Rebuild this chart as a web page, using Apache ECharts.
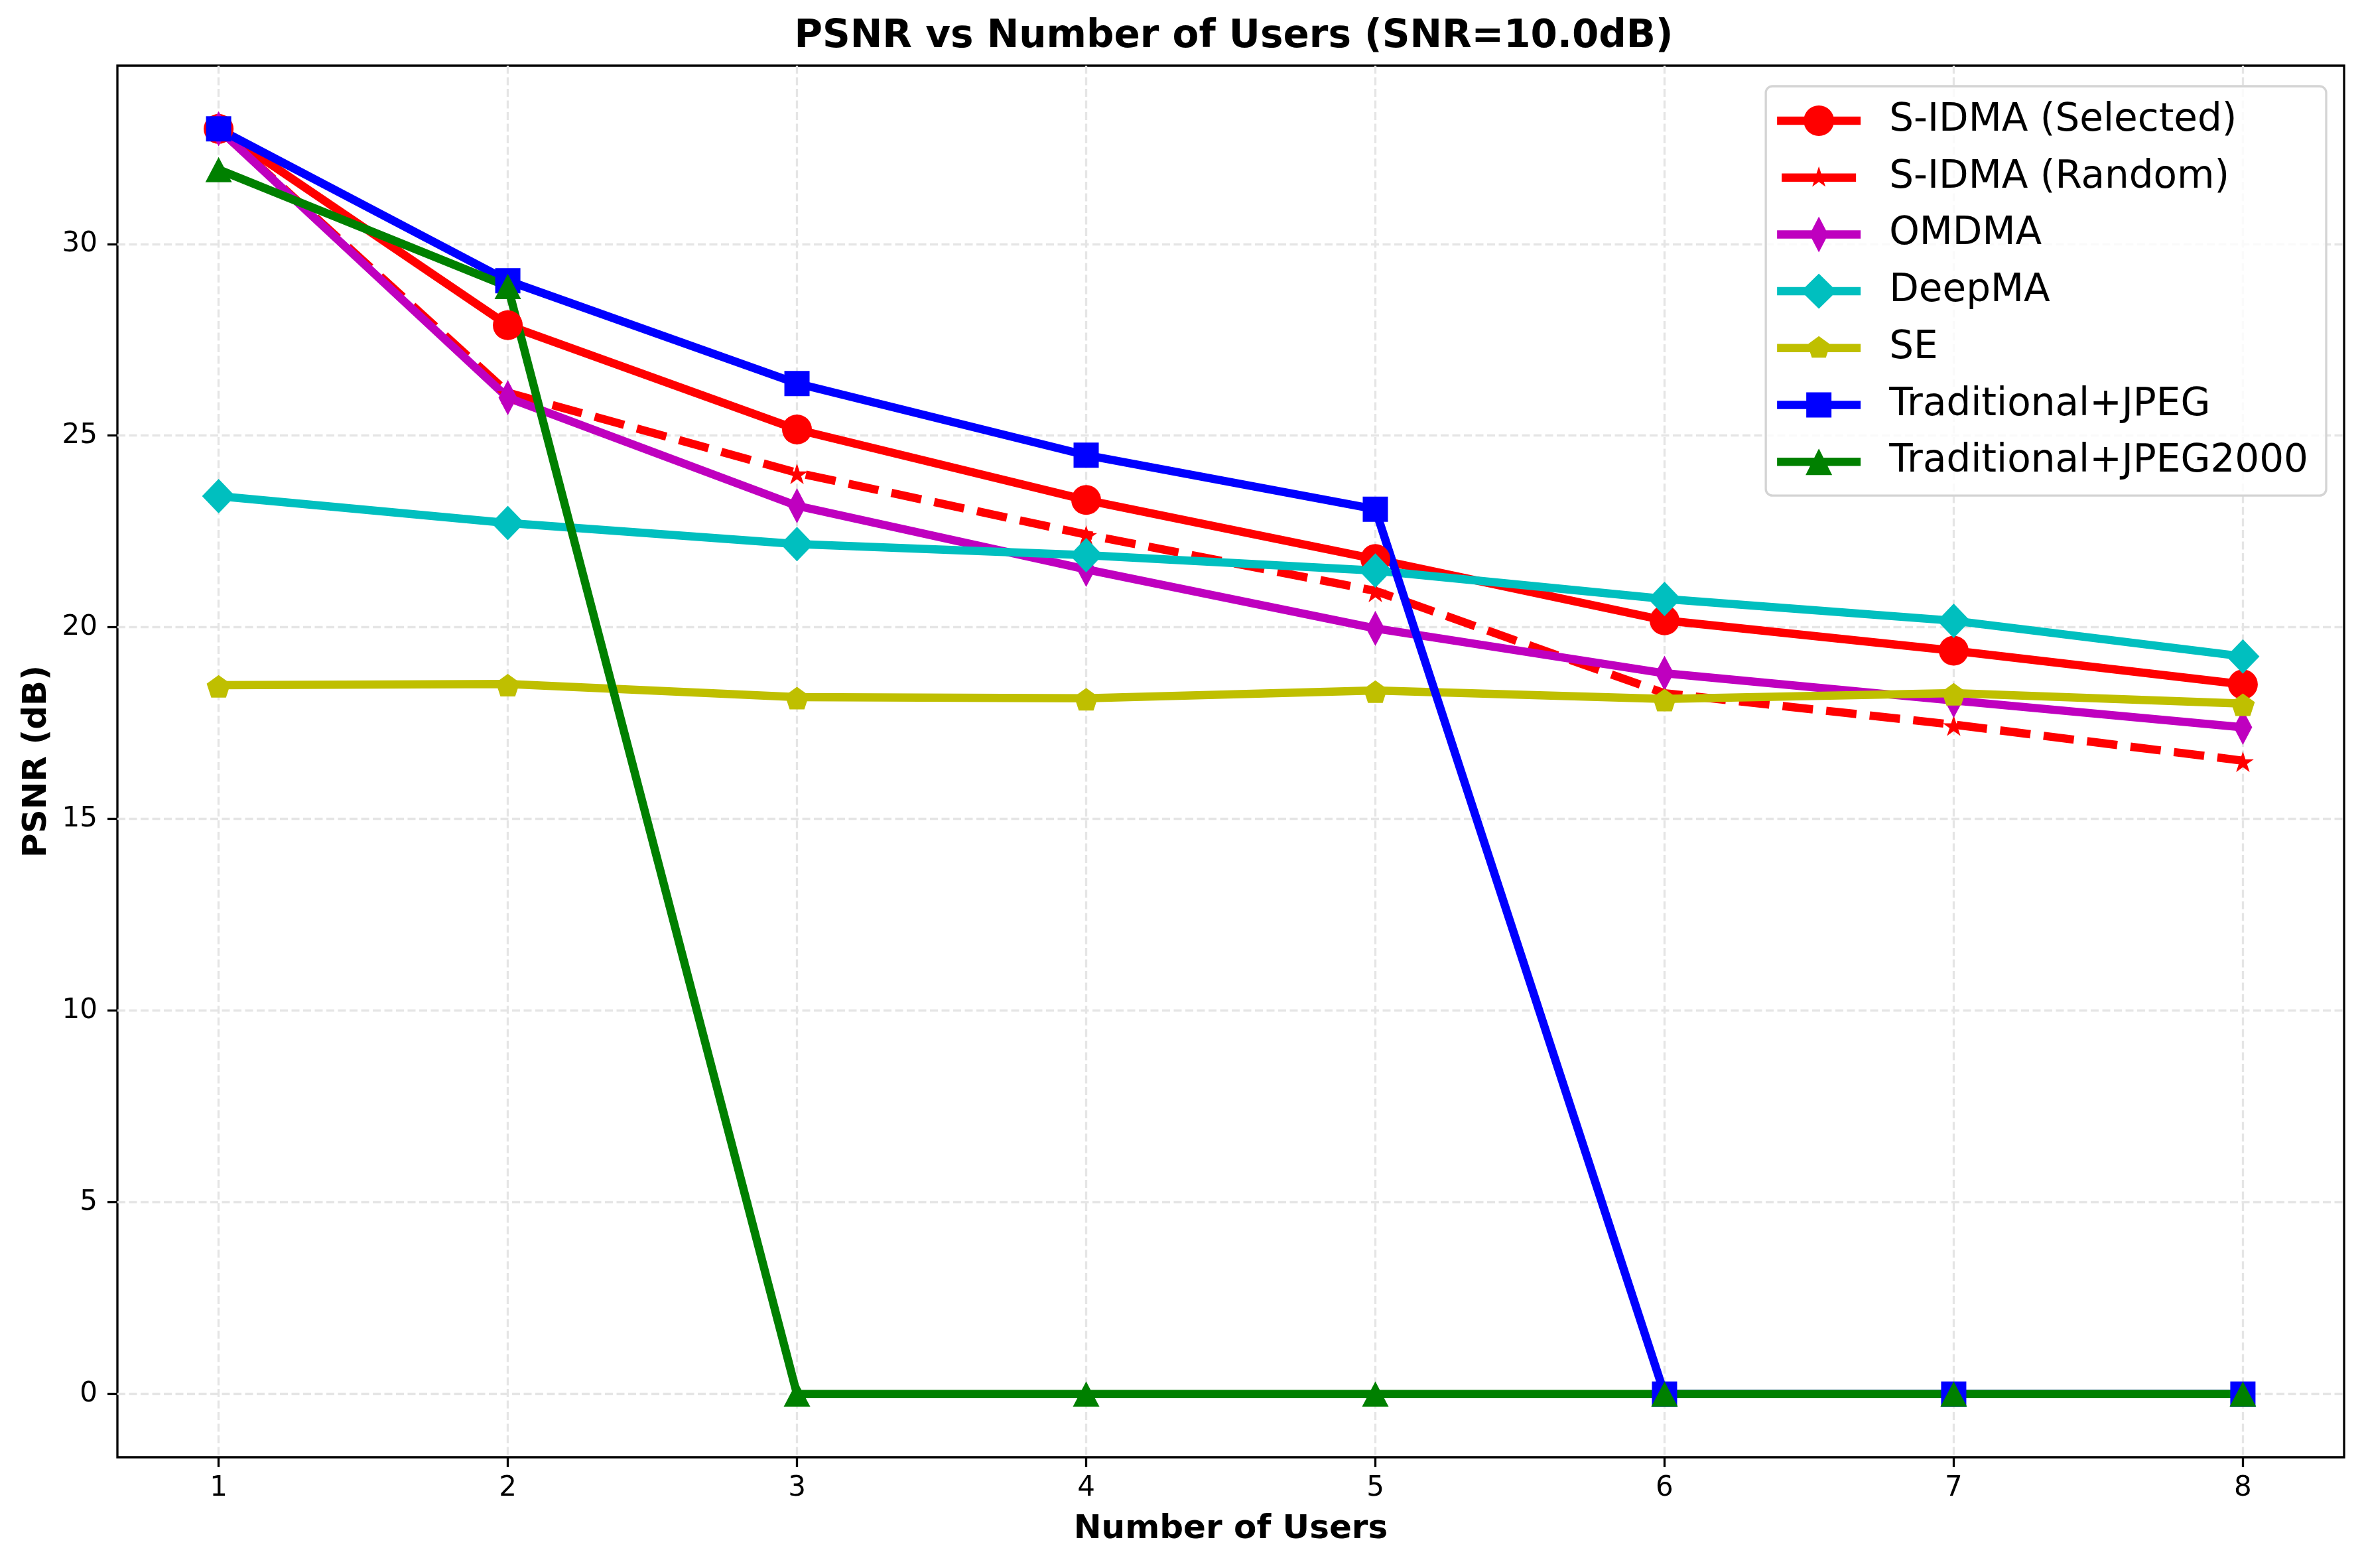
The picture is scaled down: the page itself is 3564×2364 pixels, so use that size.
<!DOCTYPE html>
<html>
<head>
<meta charset="utf-8">
<script src="https://cdn.jsdelivr.net/npm/echarts@6/dist/echarts.min.js"></script>
<style>
html,body{margin:0;padding:0;background:#fff;}
#chart{width:3564px;height:2364px;}
</style>
</head>
<body>
<div id="chart"></div>
<script>
const users = [1, 2, 3, 4, 5, 6, 7, 8];
const xTicks = [1, 2, 3, 4, 5, 6, 7, 8];
const yTicks = [0, 5, 10, 15, 20, 25, 30];
const seriesNames = ['S-IDMA (Selected)', 'S-IDMA (Random)', 'OMDMA', 'DeepMA', 'SE', 'Traditional+JPEG', 'Traditional+JPEG2000'];
const sidmaSelected = [33.0, 27.88, 25.16, 23.32, 21.78, 20.18, 19.39, 18.51];
const sidmaRandom = [33.0, 26.12, 24.03, 22.42, 20.95, 18.28, 17.46, 16.52];
const omdma = [33.0, 25.99, 23.17, 21.51, 19.97, 18.80, 18.09, 17.39];
const deepma = [23.42, 22.72, 22.17, 21.88, 21.48, 20.74, 20.17, 19.24];
const se = [18.49, 18.52, 18.18, 18.15, 18.35, 18.13, 18.28, 18.01];
const tradJpeg = [33.0, 29.04, 26.36, 24.49, 23.08, 0, 0, 0];
const tradJpeg2000 = [31.94, 28.89, 0, 0, 0, 0, 0, 0];

const STAR = 'path://M0,-100 L22.45,-30.9 L95.1,-30.9 L36.33,11.8 L58.78,80.9 L0,38.2 L-58.78,80.9 L-36.33,11.8 L-95.1,-30.9 L-22.45,-30.9 Z';
const PENT = 'path://M0,-100 L95.1,-30.9 L58.78,80.9 L-58.78,80.9 L-95.1,-30.9 Z';

const FONT = 'DejaVu Sans';
const LW = 12.5;

// ---- legend icons: handle line + marker in one path (box 126 x 56) ----
const IW = 126, IH = 56, CX = 63, CY = 28, HT = 6.25;
function f(n) { return n.toFixed(2); }
function poly(pts) { return 'M' + pts.map(p => f(p[0]) + ',' + f(p[1])).join(' L') + ' Z '; }
function anchors() { return 'M0,0 L0.01,0 L0.01,0.01 Z M' + IW + ',' + IH + ' L' + (IW - 0.01) + ',' + IH + ' L' + (IW - 0.01) + ',' + (IH - 0.01) + ' Z '; }
function bar(x0, x1) { return poly([[x0, CY - HT], [x1, CY - HT], [x1, CY + HT], [x0, CY + HT]]); }
function starPts(R) {
  const pts = [];
  for (let k = 0; k < 10; k++) {
    const a = (-90 + k * 36) * Math.PI / 180;
    const r = k % 2 === 0 ? R : R * 0.381966;
    pts.push([CX + r * Math.cos(a), CY + r * Math.sin(a)]);
  }
  return pts;
}
function pentPts(R) {
  const pts = [];
  for (let k = 0; k < 5; k++) {
    const a = (-90 + k * 72) * Math.PI / 180;
    pts.push([CX + R * Math.cos(a), CY + R * Math.sin(a)]);
  }
  return pts;
}
function circ(r) {
  return 'M' + f(CX - r) + ',' + CY + ' A' + r + ',' + r + ' 0 1,1 ' + f(CX + r) + ',' + CY + ' A' + r + ',' + r + ' 0 1,1 ' + f(CX - r) + ',' + CY + ' Z ';
}
function diam(w, h) { return poly([[CX, CY - h / 2], [CX + w / 2, CY], [CX, CY + h / 2], [CX - w / 2, CY]]); }
function sq(s) { return poly([[CX - s / 2, CY - s / 2], [CX + s / 2, CY - s / 2], [CX + s / 2, CY + s / 2], [CX - s / 2, CY + s / 2]]); }
function tri(w, h) { return poly([[CX, CY - h / 2], [CX + w / 2, CY + h / 2], [CX - w / 2, CY + h / 2]]); }

const legendIcons = [
  'path://' + anchors() + bar(0, IW) + circ(23),
  'path://' + anchors() + bar(7, IW - 7) + poly(starPts(17)),
  'path://' + anchors() + bar(0, IW) + diam(28, 54),
  'path://' + anchors() + bar(0, IW) + diam(54, 53),
  'path://' + anchors() + bar(0, IW) + poly(pentPts(18)),
  'path://' + anchors() + bar(0, IW) + sq(38),
  'path://' + anchors() + bar(0, IW) + tri(40, 40)
];

function mk(name, vals, color, symbol, size, dashed, offset) {
  return {
    name: name,
    type: 'line',
    data: users.map((u, i) => [u, vals[i]]),
    symbol: symbol,
    symbolSize: size,
    symbolOffset: offset || [0, 0],
    showSymbol: true,
    showAllSymbol: true,
    smooth: false,
    itemStyle: { color: color, borderWidth: 0 },
    lineStyle: { color: color, width: LW, type: dashed ? [46, 20] : 'solid', cap: 'butt', join: 'miter' },
    emphasis: { disabled: true },
    animation: false
  };
}

const chart = echarts.init(document.getElementById('chart'), null, { renderer: 'canvas' });
const gridLine = { show: true, lineStyle: { color: '#e5e5e5', width: 3.3, type: [12, 5.5] } };
chart.setOption({
  backgroundColor: '#ffffff',
  animation: false,
  title: {
    text: 'PSNR vs Number of Users (SNR=10.0dB)',
    left: 1855,
    top: 22,
    textAlign: 'center',
    textStyle: { fontFamily: FONT, fontWeight: 'bold', fontSize: 58, color: '#000' }
  },
  grid: {
    left: 177, right: 30, top: 99, bottom: 167,
    show: true, borderColor: '#000', borderWidth: 3.3, backgroundColor: 'transparent',
    containLabel: false
  },
  legend: {
    show: true,
    data: seriesNames.map((n, i) => ({ name: n, icon: legendIcons[i] })),
    orient: 'vertical',
    right: 57,
    top: 130,
    padding: [23, 27, 22, 17],
    itemWidth: IW,
    itemHeight: IH,
    itemGap: 27.7,
    symbolKeepAspect: true,
    itemStyle: { borderWidth: 0 },
    backgroundColor: 'rgba(255,255,255,0.8)',
    borderColor: '#d4d4d4',
    borderWidth: 3.3,
    borderRadius: 10,
    textStyle: { fontFamily: FONT, fontSize: 58, color: '#000', lineHeight: 58, padding: [0, 0, 0, 38] }
  },
  xAxis: {
    type: 'value',
    min: 0.65,
    max: 8.35,
    name: 'Number of Users',
    nameLocation: 'middle',
    nameGap: 84,
    nameTextStyle: { fontFamily: FONT, fontWeight: 'bold', fontSize: 50, color: '#000' },
    axisLine: { show: false, onZero: false },
    axisTick: { show: true, inside: false, length: 15, lineStyle: { color: '#000', width: 3.3 }, customValues: xTicks },
    axisLabel: { show: true, margin: 26, fontFamily: FONT, fontSize: 42, color: '#000', customValues: xTicks, formatter: v => String(v) },
    splitLine: gridLine
  },
  yAxis: {
    type: 'value',
    min: -1.65,
    max: 34.65,
    name: 'PSNR (dB)',
    nameLocation: 'middle',
    nameGap: 96,
    nameTextStyle: { fontFamily: FONT, fontWeight: 'bold', fontSize: 50, color: '#000' },
    axisLine: { show: false, onZero: false },
    axisTick: { show: true, inside: false, length: 15, lineStyle: { color: '#000', width: 3.3 }, customValues: yTicks },
    axisLabel: { show: true, margin: 30, fontFamily: FONT, fontSize: 42, color: '#000', customValues: yTicks, formatter: v => String(v) },
    splitLine: gridLine
  },
  series: [
    mk(seriesNames[0], sidmaSelected, '#ff0000', 'circle', 45),
    mk(seriesNames[1], sidmaRandom, '#ff0000', STAR, [33, 31], true, [0, 1.6]),
    mk(seriesNames[2], omdma, '#bf00bf', 'diamond', [28, 53]),
    mk(seriesNames[3], deepma, '#00bfbf', 'diamond', [50, 52]),
    mk(seriesNames[4], se, '#bfbf00', PENT, [36, 34], false, [0, 1.7]),
    mk(seriesNames[5], tradJpeg, '#0000ff', 'rect', 38),
    mk(seriesNames[6], tradJpeg2000, '#008000', 'triangle', [40, 38])
  ]
});
</script>
</body>
</html>
